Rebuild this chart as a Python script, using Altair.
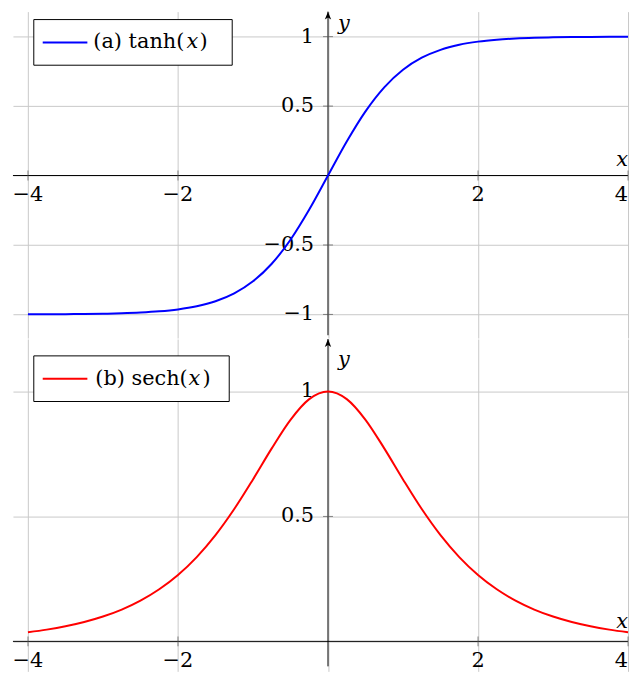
import altair as alt
import pandas as pd

# ---- data ----
x_vals = [-4.0, -3.75, -3.5, -3.25, -3.0, -2.75, -2.5, -2.25, -2.0, -1.75, -1.5, -1.25,
          -1.0, -0.75, -0.5, -0.25, 0.0, 0.25, 0.5, 0.75, 1.0, 1.25, 1.5, 1.75,
          2.0, 2.25, 2.5, 2.75, 3.0, 3.25, 3.5, 3.75, 4.0]
tanh_vals = [-0.9993, -0.9989, -0.9982, -0.9970, -0.9951, -0.9919, -0.9866, -0.9780,
             -0.9640, -0.9414, -0.9051, -0.8483, -0.7616, -0.6351, -0.4621, -0.2449,
             0.0, 0.2449, 0.4621, 0.6351, 0.7616, 0.8483, 0.9051, 0.9414,
             0.9640, 0.9780, 0.9866, 0.9919, 0.9951, 0.9970, 0.9982, 0.9989, 0.9993]
sech_vals = [0.0366, 0.0470, 0.0603, 0.0774, 0.0993, 0.1273, 0.1631, 0.2085,
             0.2658, 0.3374, 0.4251, 0.5295, 0.6481, 0.7724, 0.8868, 0.9695,
             1.0, 0.9695, 0.8868, 0.7724, 0.6481, 0.5295, 0.4251, 0.3374,
             0.2658, 0.2085, 0.1631, 0.1273, 0.0993, 0.0774, 0.0603, 0.0470, 0.0366]

x_grid = [-4, -2, 0, 2, 4]
x_tick_vals = [-4, -2, 2]
x_tick_labels = ["\u22124", "\u22122", "2"]
x_edge_val = [4]
x_edge_label = ["4"]

top_y_grid = [-1, -0.5, 0, 0.5, 1]
top_y_ticks = [-1, -0.5, 0.5, 1]
top_y_labels = ["\u22121", "\u22120.5", "0.5", "1"]

bot_y_grid = [0, 0.5, 1]
bot_y_ticks = [0.5, 1]
bot_y_labels = ["0.5", "1"]

x_domain = [-4.2, 4.0]
top_domain = [-1.17, 1.18]
bot_domain = [-0.12, 1.21]

FONT = "DejaVu Serif"
FS = 21
ARROW = "M0,0 L0.8,2 L0,1.5 L-0.8,2 Z"


def panel(yvals, color, ydom, ygrid, yticks, ylabels, yaxis_low, height,
          leg_main, leg_box, leg_y, leg_x_text, leg_x_var, leg_x_close, xlab_dy, ylab_dy):
    df = pd.DataFrame({"x": x_vals, "y": yvals})
    xs = alt.Scale(domain=x_domain, nice=False, zero=False)
    ys = alt.Scale(domain=ydom, nice=False, zero=False)
    one = alt.Data(values=[{}])

    curve = alt.Chart(df).mark_line(color=color, strokeWidth=2, interpolate="monotone").encode(
        x=alt.X("x:Q", scale=xs, axis=alt.Axis(values=x_grid)),
        y=alt.Y("y:Q", scale=ys, axis=alt.Axis(values=ygrid)),
    )

    xaxis_line = alt.Chart(one).mark_rule(color="black", strokeWidth=1).encode(
        x=alt.datum(x_domain[0]), x2=alt.datum(x_domain[1]), y=alt.datum(0)
    )
    yaxis_line = alt.Chart(one).mark_rule(color="black", strokeWidth=1).encode(
        x=alt.datum(0), y=alt.datum(yaxis_low), y2=alt.datum(ydom[1])
    )
    arrow = alt.Chart(one).mark_point(shape=ARROW, filled=True, color="black",
                                      size=64, opacity=1).encode(
        x=alt.datum(0), y=alt.datum(ydom[1])
    )

    xt = pd.DataFrame({"v": x_tick_vals + x_edge_val, "t": x_tick_labels + x_edge_label})
    xt_mid = pd.DataFrame({"v": x_tick_vals, "t": x_tick_labels})
    xt_edge = pd.DataFrame({"v": x_edge_val, "t": x_edge_label})
    yt = pd.DataFrame({"v": yticks, "t": ylabels})

    xticks = alt.Chart(xt).mark_tick(orient="vertical", color="#555555", thickness=1,
                                     size=10).encode(x="v:Q", y=alt.datum(0))
    yticks_m = alt.Chart(yt).mark_tick(orient="horizontal", color="#555555", thickness=1,
                                       size=10).encode(y="v:Q", x=alt.datum(0))
    xlabels = alt.Chart(xt_mid).mark_text(font=FONT, fontSize=FS, baseline="top", dy=9,
                                          color="black").encode(
        x="v:Q", y=alt.datum(0), text="t:N")
    xlabel_edge = alt.Chart(xt_edge).mark_text(font=FONT, fontSize=FS, baseline="top", dy=9,
                                               align="right", color="black").encode(
        x="v:Q", y=alt.datum(0), text="t:N")
    ylabels_m = alt.Chart(yt).mark_text(font=FONT, fontSize=FS, baseline="middle",
                                        align="right", dx=-14, color="black").encode(
        y="v:Q", x=alt.datum(0), text="t:N")

    xname = alt.Chart(one).mark_text(font=FONT, fontSize=FS, fontStyle="italic",
                                     baseline="alphabetic", align="right", dy=xlab_dy,
                                     color="black").encode(
        x=alt.datum(4), y=alt.datum(0), text=alt.value("x"))
    yname = alt.Chart(one).mark_text(font=FONT, fontSize=FS, fontStyle="italic",
                                     baseline="alphabetic", align="left", dx=10, dy=ylab_dy,
                                     color="black").encode(
        x=alt.datum(0), y=alt.datum(ydom[1]), text=alt.value("y"))

    # legend
    box = alt.Chart(one).mark_rect(fill="white", stroke="black", strokeWidth=1).encode(
        x=alt.value(leg_box[0]), x2=alt.value(leg_box[1]),
        y=alt.value(leg_box[2]), y2=alt.value(leg_box[3]))
    sample = alt.Chart(one).mark_rule(color=color, strokeWidth=2).encode(
        x=alt.value(30), x2=alt.value(75), y=alt.value(leg_y))
    t1 = alt.Chart(one).mark_text(font=FONT, fontSize=FS, align="left", baseline="middle",
                                  color="black").encode(
        x=alt.value(leg_x_text), y=alt.value(leg_y), text=alt.value(leg_main))
    t2 = alt.Chart(one).mark_text(font=FONT, fontSize=FS, align="left", baseline="middle",
                                  fontStyle="italic", color="black").encode(
        x=alt.value(leg_x_var), y=alt.value(leg_y), text=alt.value("x"))
    t3 = alt.Chart(one).mark_text(font=FONT, fontSize=FS, align="left", baseline="middle",
                                  color="black").encode(
        x=alt.value(leg_x_close), y=alt.value(leg_y), text=alt.value(")"))

    return alt.layer(
        curve.mark_line(opacity=0, strokeWidth=0),
        xlabels, xlabel_edge, ylabels_m, xaxis_line, yaxis_line, xticks, yticks_m, arrow,
        xname, yname, curve, box, sample, t1, t2, t3,
    ).properties(width=620, height=height)


top = panel(tanh_vals, "#0000ff", top_domain, top_y_grid, top_y_ticks, top_y_labels,
            -1.15, 329, "(a) tanh(", [21, 221, 8, 54], 31, 81, 175, 188, -10, 19)
bottom = panel(sech_vals, "#ff0000", bot_domain, bot_y_grid, bot_y_ticks, bot_y_labels,
               -0.1, 335, "(b) sech(", [21, 218, 17, 63], 40, 83, 177, 191, -13, 27)

chart = alt.vconcat(top, bottom, spacing=0).properties(
    padding={"left": 4, "top": 0, "right": 0, "bottom": 0},
    background="white",
).configure_view(stroke=None).configure_axis(
    grid=True, labels=False, ticks=False, domain=False, title=None,
    gridColor="#c8c8c8", gridWidth=1, minExtent=0, maxExtent=0,
)

chart.save("out.html", embed_options={"renderer": "svg", "actions": False})
